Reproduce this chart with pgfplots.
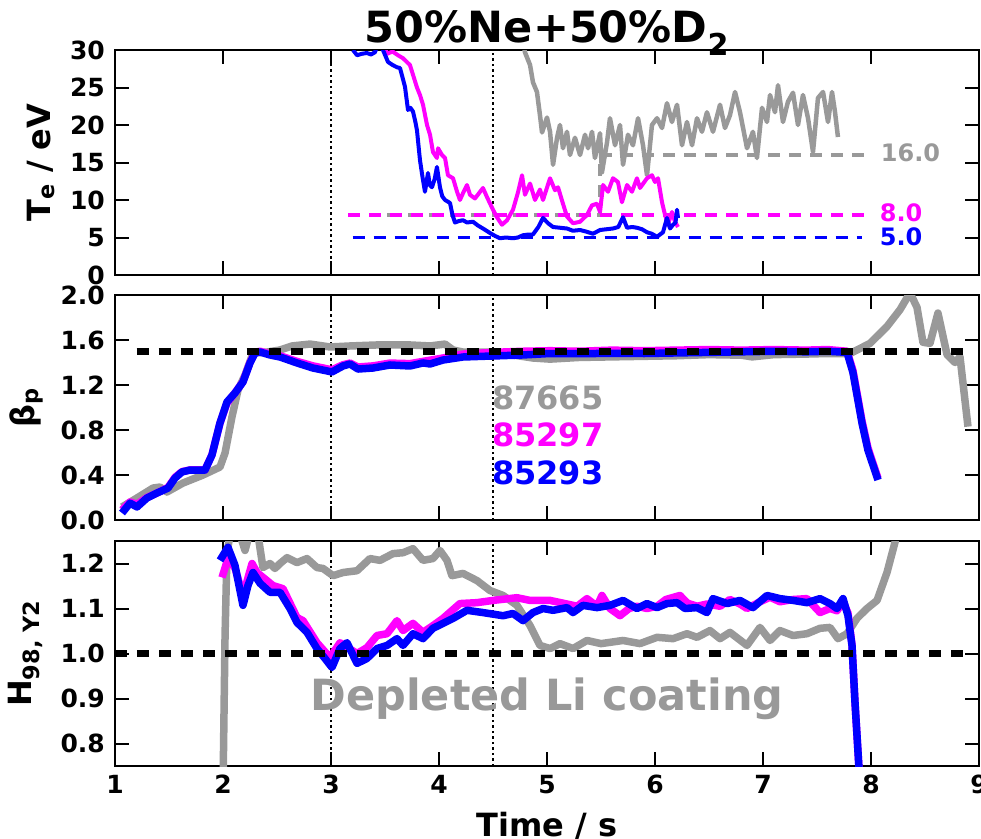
\documentclass[border=0pt]{standalone}
\usepackage{pgfplots}
\pgfplotsset{compat=1.18}
\usepackage{fontspec}
\setmainfont{DejaVu Sans}
\definecolor{mgray}{RGB}{153,153,153}
\definecolor{mag}{RGB}{255,0,255}
\definecolor{blu}{RGB}{0,0,255}
\pgfplotsset{
  panel/.style={
    width=864pt, height=225pt, scale only axis,
    xmin=1, xmax=9, xtick={1,2,...,9},
    tick align=inside, major tick length=14pt,
    every tick/.style={line width=2pt, black},
    axis line style={line width=2.5pt},
    tick label style={font=\fontsize{25}{25}\selectfont\bfseries, inner sep=0pt},
    yticklabel style={xshift=-10pt},
    xticklabel style={yshift=-9pt},
    /pgf/number format/assume math mode=true,
    label style={font=\fontsize{32}{32}\selectfont\bfseries, inner sep=0pt},
    ylabel style={anchor=south},
  },
  vdot/.style={black, line width=2.2pt, dash pattern=on 2.2pt off 3.3pt},
  hdash/.style={black, line width=7.5pt, dash pattern=on 12pt off 10pt},
  thin1/.style={line width=4pt, line join=round},
  thick1/.style={line width=7.5pt, line join=round},
}
\begin{document}
\begin{tikzpicture}
\useasboundingbox (-115pt,50pt) rectangle (866pt,-788pt);
% ---------------- Panel 1 ----------------
\begin{axis}[panel, name=p1, at={(0pt,0pt)}, anchor=north west,
  ymin=0, ymax=30, ytick={0,5,...,30}, xticklabels={},
  ylabel={T\textsubscript{e} / eV},
  ylabel style={at={(axis description cs:-0.0694,0.5)}}]
\addplot[vdot] coordinates {(3,0)(3,30)};
\addplot[vdot] coordinates {(4.5,0)(4.5,30)};
\addplot[mgray, line width=3.5pt, dash pattern=on 12pt off 9pt] coordinates {(3.52,8)(5.49,8)(5.49,16)(8.0,16)};
\addplot[mag, line width=3.5pt, dash pattern=on 12pt off 9pt] coordinates {(3.16,8)(8.0,8)};
\addplot[blu, line width=3.5pt, dash pattern=on 12pt off 9pt] coordinates {(3.2,5)(7.92,5)};
\addplot[mgray, line width=4.5pt, line join=round] coordinates {
(4.78,31)(4.796,29.7)(4.843,28)(4.870,25.7)(4.907,24.4)(4.935,21.3)(4.954,19)(5.000,21)(5.028,19.1)(5.056,14.7)(5.093,18.3)(5.120,20)(5.148,16.9)(5.185,19.1)(5.213,16)(5.259,18.3)(5.306,16)(5.352,18.7)(5.380,16.9)(5.417,19.1)(5.444,15.6)(5.491,18.9)(5.509,13.7)(5.556,17.7)(5.583,20.9)(5.630,17.3)(5.676,20)(5.704,14.7)(5.750,18.7)(5.796,17.3)(5.843,20.9)(5.889,17.3)(5.926,13.3)(5.972,20)(6.019,20.9)(6.065,19.6)(6.111,22.9)(6.157,20.4)(6.204,22.7)(6.250,17.3)(6.296,20.4)(6.343,17.3)(6.389,20.9)(6.435,19.1)(6.481,21.7)(6.537,19.1)(6.602,22.7)(6.648,19.6)(6.694,21.3)(6.741,24.4)(6.787,21.7)(6.852,16.9)(6.907,19.1)(6.944,15.6)(6.991,22.3)(7.037,20.4)(7.065,24)(7.111,21.7)(7.139,25.3)(7.185,20.4)(7.231,23.1)(7.278,24.3)(7.324,20)(7.370,24)(7.417,20.9)(7.463,16.4)(7.509,23.6)(7.556,24.4)(7.602,20.4)(7.639,24.4)(7.667,21.7)(7.694,18.4)};
\addplot[mag, thin1] coordinates {
(3.48,31)(3.52,29.5)(3.57,29.8)(3.62,29.3)(3.667,28.9)(3.731,28)(3.796,25)(3.824,24)(3.852,22.7)(3.889,20)(3.917,18.7)(3.944,16.4)(3.981,15.6)(3.991,16.9)(4.028,16)(4.056,15.6)(4.083,13.3)(4.130,12.9)(4.167,11.1)(4.194,10)(4.222,10.9)(4.259,12)(4.287,10.7)(4.333,10.2)(4.407,11.6)(4.444,10.4)(4.500,8.7)(4.537,7.7)(4.583,6.7)(4.630,7.3)(4.685,8.7)(4.731,11.0)(4.769,13.3)(4.796,10.7)(4.843,12.2)(4.889,10.0)(4.935,11.4)(4.963,10.0)(5.028,12.9)(5.074,11.3)(5.102,11.7)(5.148,9.5)(5.185,7.8)(5.241,6.9)(5.306,7.1)(5.370,8.0)(5.417,9.3)(5.463,9.5)(5.491,8.4)(5.519,12)(5.565,11.1)(5.611,12.9)(5.657,12.4)(5.694,9.7)(5.741,12)(5.787,11.1)(5.833,12.9)(5.861,11.6)(5.926,12.9)(5.972,13.3)(6.000,12.4)(6.028,12.9)(6.065,9.7)(6.093,8.0)(6.120,6.7)(6.157,8.4)(6.185,7.1)(6.213,6.4)};
\addplot[blu, thin1] coordinates {
(3.204,30.0)(3.241,29.3)(3.287,29.5)(3.333,29.6)(3.37,29.4)(3.407,29.7)(3.44,31)(3.481,30.0)(3.528,28.4)(3.57,28.0)(3.611,27.7)(3.639,27.6)(3.685,25.1)(3.713,22.0)(3.735,22.3)(3.759,21.8)(3.78,20.5)(3.796,19.3)(3.824,15.3)(3.848,13.0)(3.870,11.1)(3.898,13.6)(3.915,12.0)(3.935,11.7)(3.96,12.8)(3.981,14.4)(4.009,11.7)(4.03,10.5)(4.056,10.0)(4.08,9.8)(4.102,9.6)(4.125,8.0)(4.148,7.0)(4.185,7.2)(4.222,7.3)(4.26,7.0)(4.315,7.1)(4.36,6.6)(4.407,6.2)(4.44,5.9)(4.472,5.6)(4.52,5.2)(4.565,4.9)(4.62,5.0)(4.685,4.9)(4.73,5.0)(4.778,5.3)(4.83,5.4)(4.870,5.4)(4.92,6.4)(4.963,7.6)(5.01,6.9)(5.056,6.4)(5.12,6.3)(5.185,6.2)(5.24,5.9)(5.306,6.0)(5.36,5.8)(5.426,5.5)(5.491,6.0)(5.55,6.1)(5.611,6.2)(5.66,6.4)(5.704,7.7)(5.741,6.3)(5.79,6.4)(5.833,6.3)(5.88,6.1)(5.926,5.7)(5.97,5.5)(6.019,5.1)(6.074,5.7)(6.111,7.6)(6.139,6.2)(6.167,6.7)(6.19,7.0)(6.204,8.7)(6.213,7.6)};
\node[anchor=west, inner sep=0pt, text=mgray, font=\fontsize{24}{24}\selectfont\bfseries] at (axis cs:8.09,16.3) {16.0};
\node[anchor=west, inner sep=0pt, text=mag, font=\fontsize{24}{24}\selectfont\bfseries] at (axis cs:8.08,8.3) {8.0};
\node[anchor=west, inner sep=0pt, text=blu, font=\fontsize{24}{24}\selectfont\bfseries] at (axis cs:8.08,5.1) {5.0};
\end{axis}
\node[anchor=base, inner sep=0pt, font=\fontsize{43}{43}\selectfont\bfseries] at ([yshift=8pt]p1.north) {50\%Ne+50\%D\textsubscript{2}};
% ---------------- Panel 2 ----------------
\begin{axis}[panel, at={(0pt,-245pt)}, anchor=north west,
  ymin=0, ymax=2, ytick={0,0.4,...,2.0}, xticklabels={},
  yticklabel style={/pgf/number format/.cd, fixed, fixed zerofill, precision=1},
  ylabel={β\textsubscript{p}},
  ylabel style={at={(axis description cs:-0.0833,0.5)}}]
\addplot[vdot] coordinates {(3,0)(3,2)};
\addplot[vdot] coordinates {(4.5,0)(4.5,2)};
\addplot[mgray, thick1] coordinates {
(1.065,0.116)(1.204,0.196)(1.352,0.284)(1.417,0.293)(1.481,0.249)(1.630,0.329)(1.815,0.4)(1.972,0.471)(2.019,0.596)(2.083,0.916)(2.139,1.156)(2.204,1.289)(2.278,1.484)(2.407,1.493)(2.528,1.511)(2.639,1.547)(2.806,1.564)(2.991,1.538)(3.176,1.547)(3.426,1.556)(3.731,1.556)(3.917,1.547)(4.056,1.564)(4.130,1.511)(4.222,1.493)(4.500,1.493)(4.870,1.44)(5.028,1.43)(5.3,1.445)(5.6,1.45)(5.9,1.455)(6.2,1.46)(6.5,1.47)(6.8,1.465)(6.9,1.45)(7.1,1.47)(7.4,1.475)(7.6,1.48)(7.806,1.48)(7.991,1.57)(8.148,1.72)(8.269,1.87)(8.361,2.02)(8.426,1.89)(8.481,1.58)(8.546,1.57)(8.620,1.84)(8.704,1.47)(8.778,1.40)(8.824,1.45)(8.898,0.83)};
\addplot[mag, thick1] coordinates {
(1.065,0.09)(1.139,0.16)(1.204,0.14)(1.296,0.2)(1.389,0.24)(1.491,0.29)(1.556,0.38)(1.620,0.43)(1.694,0.445)(1.833,0.445)(1.898,0.58)(1.972,0.86)(2.037,1.04)(2.111,1.13)(2.185,1.23)(2.250,1.40)(2.296,1.49)(2.343,1.50)(2.435,1.475)(2.528,1.46)(2.685,1.41)(2.833,1.37)(3.009,1.335)(3.111,1.38)(3.176,1.395)(3.250,1.36)(3.389,1.37)(3.546,1.395)(3.731,1.39)(3.852,1.41)(4.037,1.44)(4.222,1.475)(4.500,1.49)(4.778,1.5)(5.028,1.505)(5.3,1.5)(5.6,1.51)(5.9,1.505)(6.2,1.51)(6.5,1.515)(6.8,1.51)(7.1,1.515)(7.4,1.51)(7.6,1.515)(7.778,1.50)(7.833,1.33)(7.917,0.88)(7.972,0.64)(8.065,0.37)};
\addplot[blu, thick1] coordinates {
(1.065,0.062)(1.139,0.15)(1.204,0.116)(1.296,0.196)(1.389,0.24)(1.491,0.284)(1.556,0.373)(1.620,0.427)(1.694,0.444)(1.833,0.444)(1.898,0.578)(1.972,0.862)(2.037,1.049)(2.111,1.129)(2.185,1.227)(2.250,1.396)(2.296,1.484)(2.343,1.493)(2.435,1.467)(2.528,1.449)(2.685,1.396)(2.833,1.351)(3.009,1.316)(3.111,1.369)(3.176,1.387)(3.250,1.342)(3.389,1.351)(3.546,1.378)(3.731,1.369)(3.852,1.396)(3.917,1.387)(4.037,1.422)(4.222,1.449)(4.500,1.458)(4.778,1.467)(5.028,1.48)(5.3,1.478)(5.6,1.482)(5.9,1.48)(6.2,1.485)(6.5,1.49)(6.8,1.495)(7.1,1.5)(7.4,1.495)(7.6,1.5)(7.778,1.49)(7.833,1.31)(7.917,0.86)(7.972,0.62)(8.065,0.356)};
\addplot[hdash] coordinates {(1.2,1.5)(8.9,1.5)};
\node[anchor=west, inner sep=0pt, text=mgray, font=\fontsize{32}{32}\selectfont\bfseries] at (axis cs:4.49,1.084) {87665};
\node[anchor=west, inner sep=0pt, text=mag, font=\fontsize{32}{32}\selectfont\bfseries] at (axis cs:4.49,0.756) {85297};
\node[anchor=west, inner sep=0pt, text=blu, font=\fontsize{32}{32}\selectfont\bfseries] at (axis cs:4.49,0.418) {85293};
\end{axis}
% ---------------- Panel 3 ----------------
\begin{axis}[panel, at={(0pt,-491pt)}, anchor=north west,
  ymin=0.75, ymax=1.25, ytick={0.8,0.9,...,1.25},
  yticklabel style={/pgf/number format/.cd, fixed, fixed zerofill, precision=1},
  ylabel={H\textsubscript{98, Y2}},
  ylabel style={at={(axis description cs:-0.0833,0.5)}},
  xlabel={Time / s},
  xlabel style={at={(axis description cs:0.5,0)}, anchor=north, yshift=-46pt}]
\addplot[vdot] coordinates {(3,0.75)(3,1.25)};
\addplot[vdot] coordinates {(4.5,0.75)(4.5,1.25)};
\addplot[mgray, thick1] coordinates {
(2.0,0.7)(2.019,1.04)(2.037,1.224)(2.07,1.27)(2.15,1.27)(2.204,1.229)(2.25,1.27)(2.32,1.27)(2.370,1.191)(2.435,1.2)(2.481,1.189)(2.528,1.2)(2.593,1.213)(2.685,1.202)(2.778,1.211)(2.870,1.191)(2.926,1.189)(3.019,1.173)(3.111,1.18)(3.241,1.184)(3.361,1.211)(3.454,1.207)(3.574,1.222)(3.667,1.224)(3.759,1.233)(3.852,1.207)(3.944,1.211)(4.009,1.229)(4.074,1.207)(4.120,1.173)(4.222,1.178)(4.352,1.162)(4.472,1.14)(4.593,1.129)(4.722,1.107)(4.843,1.062)(4.935,1.018)(5.028,1.011)(5.120,1.022)(5.241,1.011)(5.370,1.029)(5.5,1.022)(5.704,1.029)(5.861,1.022)(6.019,1.036)(6.167,1.033)(6.296,1.044)(6.389,1.036)(6.509,1.051)(6.602,1.033)(6.694,1.047)(6.852,1.018)(6.972,1.058)(7.065,1.029)(7.157,1.051)(7.278,1.040)(7.407,1.044)(7.528,1.056)(7.620,1.058)(7.694,1.033)(7.778,1.044)(7.870,1.078)(7.963,1.1)(8.056,1.118)(8.148,1.18)(8.222,1.247)(8.26,1.3)};
\addplot[mag, thick1] coordinates {
(1.991,1.169)(2.046,1.211)(2.111,1.19)(2.185,1.129)(2.269,1.2)(2.315,1.18)(2.463,1.151)(2.556,1.144)(2.685,1.08)(2.741,1.073)(2.870,1.024)(2.991,0.991)(3.083,1.024)(3.241,1.0)(3.333,1.013)(3.426,1.04)(3.519,1.044)(3.611,1.073)(3.667,1.051)(3.759,1.067)(3.852,1.047)(3.944,1.062)(4.037,1.078)(4.194,1.111)(4.352,1.113)(4.500,1.118)(4.722,1.124)(4.843,1.118)(5.028,1.118)(5.185,1.11)(5.28,1.105)(5.370,1.122)(5.463,1.105)(5.509,1.129)(5.583,1.1)(5.676,1.084)(5.76,1.1)(5.833,1.105)(5.926,1.1)(6.019,1.105)(6.1,1.12)(6.231,1.129)(6.3,1.112)(6.389,1.105)(6.481,1.11)(6.602,1.105)(6.694,1.12)(6.787,1.11)(6.852,1.1)(6.972,1.115)(7.065,1.125)(7.157,1.115)(7.278,1.12)(7.407,1.122)(7.528,1.091)(7.620,1.1)(7.685,1.095)(7.741,1.115)(7.787,1.09)(7.824,1.02)(7.852,0.89)(7.889,0.744)};
\addplot[blu, thick1] coordinates {
(1.972,1.207)(2.046,1.236)(2.111,1.196)(2.185,1.107)(2.231,1.151)(2.278,1.18)(2.343,1.156)(2.435,1.136)(2.528,1.136)(2.620,1.1)(2.685,1.069)(2.778,1.047)(2.870,1.011)(2.944,0.989)(3.009,0.969)(3.083,1.011)(3.148,1.024)(3.241,0.978)(3.333,0.989)(3.426,1.011)(3.519,1.018)(3.611,1.033)(3.667,1.018)(3.759,1.044)(3.852,1.033)(3.944,1.056)(4.037,1.067)(4.130,1.078)(4.259,1.096)(4.407,1.091)(4.593,1.084)(4.685,1.089)(4.778,1.073)(4.870,1.091)(4.963,1.1)(5.056,1.096)(5.185,1.102)(5.241,1.091)(5.333,1.107)(5.463,1.102)(5.583,1.107)(5.704,1.118)(5.833,1.1)(5.926,1.111)(6.019,1.102)(6.111,1.111)(6.204,1.113)(6.278,1.1)(6.389,1.102)(6.481,1.091)(6.537,1.122)(6.667,1.111)(6.787,1.118)(6.907,1.102)(7.037,1.129)(7.157,1.122)(7.278,1.118)(7.407,1.113)(7.528,1.122)(7.620,1.111)(7.685,1.1)(7.741,1.122)(7.787,1.084)(7.824,1.018)(7.852,0.891)(7.889,0.744)};
\addplot[hdash] coordinates {(1.0,1.0)(8.9,1.0)};
\node[anchor=base, inner sep=0pt, text=mgray, font=\fontsize{43}{43}\selectfont\bfseries] at (axis cs:5.0,0.873) {Depleted Li coating};
\end{axis}
\end{tikzpicture}
\end{document}
